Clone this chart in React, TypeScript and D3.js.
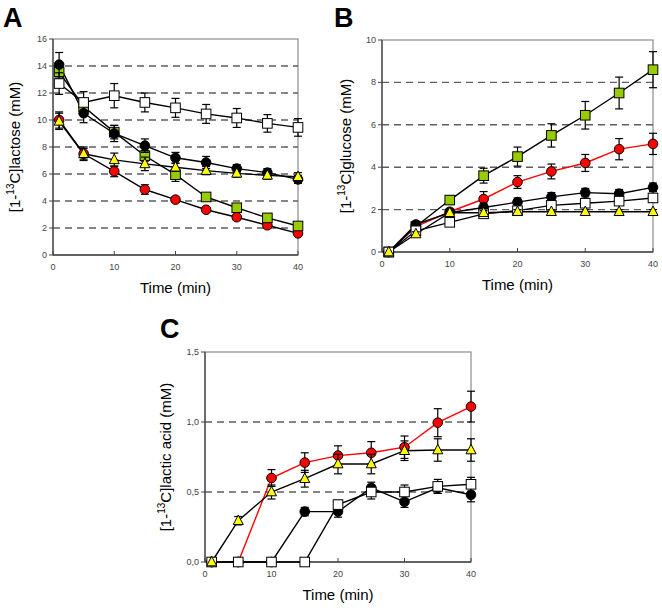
import * as d3 from "d3";

const times = [1, 5, 10, 15, 20, 25, 30, 35, 40];
const xTicks = [0, 10, 20, 30, 40];

// panel A: [1-13C]lactose
const lacBlack = [14.1, 10.5, 9.0, 8.1, 7.2, 6.85, 6.4, 6.1, 5.6];
const lacBlackErr = [0.9, 0.7, 0.6, 0.5, 0.4, 0.45, 0.3, 0.3, 0.3];
const lacWhite = [12.7, 11.3, 11.8, 11.3, 10.9, 10.45, 10.15, 9.75, 9.45];
const lacWhiteErr = [0.8, 0.8, 0.9, 0.7, 0.7, 0.7, 0.7, 0.65, 0.65];
const lacGreen = [13.55, 11.0, 9.1, 7.35, 5.95, 4.3, 3.5, 2.75, 2.15];
const lacGreenErr = [0.5, 0.4, 0.5, 0.4, 0.5, 0.2, 0.2, 0.2, 0.2];
const lacRed = [10.0, 7.5, 6.2, 4.85, 4.1, 3.35, 2.8, 2.2, 1.6];
const lacRedErr = [0.6, 0.4, 0.4, 0.35, 0.2, 0.2, 0.2, 0.2, 0.2];
const lacYellow = [9.9, 7.5, 7.05, 6.75, 6.5, 6.25, 6.05, 5.9, 5.8];
const lacYellowErr = [0.6, 0.5, 0.5, 0.5, 0.3, 0.3, 0.3, 0.3, 0.3];

// panel B: [1-13C]glucose
const gluBlack = [0, 1.3, 1.85, 2.1, 2.35, 2.6, 2.8, 2.75, 3.05];
const gluBlackErr = [0, 0.15, 0.15, 0.2, 0.2, 0.2, 0.2, 0.2, 0.2];
const gluWhite = [0, 1.0, 1.4, 1.8, 1.95, 2.2, 2.3, 2.4, 2.55];
const gluWhiteErr = [0, 0.1, 0.15, 0.15, 0.15, 0.15, 0.15, 0.15, 0.2];
const gluGreen = [0, 1.2, 2.45, 3.6, 4.5, 5.5, 6.45, 7.5, 8.6];
const gluGreenErr = [0, 0.15, 0.2, 0.35, 0.45, 0.55, 0.65, 0.75, 0.85];
const gluRed = [0, 1.2, 1.9, 2.5, 3.3, 3.8, 4.2, 4.85, 5.1];
const gluRedErr = [0, 0.15, 0.15, 0.35, 0.3, 0.35, 0.4, 0.5, 0.5];
const gluYellow = [0, 0.85, 1.85, 1.85, 1.9, 1.9, 1.9, 1.9, 1.9];
const gluYellowErr = [0, 0.1, 0.1, 0.1, 0.1, 0.1, 0.1, 0.1, 0.1];

// panel C: [1-13C]lactic acid
const lacBlackC = [0, 0, 0, 0.36, 0.36, 0.53, 0.43, 0.53, 0.48];
const lacBlackCErr = [0, 0, 0, 0.03, 0.04, 0.04, 0.04, 0.04, 0.05];
const lacWhiteC = [0, 0, 0, 0, 0.41, 0.5, 0.5, 0.54, 0.555];
const lacWhiteCErr = [0, 0, 0, 0, 0.03, 0.05, 0.05, 0.05, 0.05];
const lacRedC = [0, 0, 0.6, 0.71, 0.76, 0.78, 0.82, 0.995, 1.11];
const lacRedCErr = [0, 0, 0.06, 0.07, 0.07, 0.08, 0.08, 0.1, 0.11];
const lacYellowC = [0, 0.295, 0.5, 0.595, 0.7, 0.7, 0.795, 0.8, 0.8];
const lacYellowCErr = [0, 0.03, 0.05, 0.06, 0.07, 0.07, 0.07, 0.08, 0.08];

type Shape = "circle" | "square" | "triangle";
type Series = { shape: Shape; fill: string; line: string; values: number[]; errs: number[] };

const RED = "#ff0000";
const GREEN = "#99cc00";
const YELLOW = "#ffff00";
const FONT = "Liberation Sans, Arial, sans-serif";

function Marker({ shape, fill, x, y }: { shape: Shape; fill: string; x: number; y: number }) {
  if (shape === "circle") return <circle cx={x} cy={y} r={4.8} fill={fill} stroke="#000" strokeWidth={1} />;
  if (shape === "square") return <rect x={x - 4.8} y={y - 4.8} width={9.6} height={9.6} fill={fill} stroke="#000" strokeWidth={1} />;
  const h = 9.5;
  return (
    <path
      d={`M${x},${y - h * 0.6}L${x + 5},${y + h * 0.4}L${x - 5},${y + h * 0.4}Z`}
      fill={fill}
      stroke="#000"
      strokeWidth={1}
    />
  );
}

type PanelProps = {
  letter: string;
  letterPos: [number, number];
  box: [number, number, number, number]; // left, top, right, bottom
  yMax: number;
  yTicks: number[];
  fmt: (v: number) => string;
  yLabel: string;
  yLabelX: number;
  series: Series[];
};

function Panel({ letter, letterPos, box, yMax, yTicks, fmt, yLabel, yLabelX, series }: PanelProps) {
  const [l, t, r, b] = box;
  const x = d3.scaleLinear().domain([0, 40]).range([l, r]);
  const y = d3.scaleLinear().domain([0, yMax]).range([b, t]);
  const line = d3
    .line<number>()
    .x((_, i) => x(times[i]))
    .y((d) => y(d));
  const midY = (t + b) / 2;
  return (
    <g>
      <text x={letterPos[0]} y={letterPos[1]} fontSize={27} fontWeight="bold" fontFamily={FONT}>
        {letter}
      </text>
      <rect x={l} y={t} width={r - l} height={b - t} fill="#fff" stroke="#8c8c8c" strokeWidth={1.2} />
      {yTicks
        .filter((v) => v > 0 && v < yMax)
        .map((v) => (
          <line key={v} x1={l} x2={r} y1={y(v)} y2={y(v)} stroke="#5f5f5f" strokeWidth={1.4} strokeDasharray="7,5" />
        ))}
      <line x1={l} x2={l} y1={t} y2={b} stroke="#444" strokeWidth={1.3} />
      <line x1={l} x2={r} y1={b} y2={b} stroke="#444" strokeWidth={1.3} />
      {yTicks.map((v) => (
        <g key={v}>
          <line x1={l - 4} x2={l} y1={y(v)} y2={y(v)} stroke="#444" />
          <text x={l - 6} y={y(v) + 3} textAnchor="end" fontSize={9} fill="#444" fontFamily={FONT}>
            {fmt(v)}
          </text>
        </g>
      ))}
      {xTicks.map((v) => (
        <g key={v}>
          <line x1={x(v)} x2={x(v)} y1={b} y2={b - 4} stroke="#444" />
          <text x={x(v)} y={b + 15} textAnchor="middle" fontSize={9} fill="#444" fontFamily={FONT}>
            {v}
          </text>
        </g>
      ))}
      <text x={(l + r) / 2} y={b + 38} textAnchor="middle" fontSize={15} fontFamily={FONT}>
        Time (min)
      </text>
      <text transform={`translate(${yLabelX},${midY}) rotate(-90)`} textAnchor="middle" fontSize={15} fontFamily={FONT}>
        [1-<tspan fontSize={10} dy={-6}>13</tspan>
        <tspan dy={6}>C]{yLabel} (mM)</tspan>
      </text>
      {series.map((s, si) => (
        <path key={si} d={line(s.values) || ""} fill="none" stroke={s.line} strokeWidth={1.4} />
      ))}
      {series.map((s, si) => (
        <g key={si}>
          {s.values.map((v, i) =>
            s.errs[i] > 0 ? (
              <g key={i} stroke="#000" strokeWidth={1.2}>
                <line x1={x(times[i])} x2={x(times[i])} y1={y(v - s.errs[i])} y2={y(v + s.errs[i])} />
                <line x1={x(times[i]) - 4} x2={x(times[i]) + 4} y1={y(v - s.errs[i])} y2={y(v - s.errs[i])} />
                <line x1={x(times[i]) - 4} x2={x(times[i]) + 4} y1={y(v + s.errs[i])} y2={y(v + s.errs[i])} />
              </g>
            ) : null
          )}
          {s.values.map((v, i) => (
            <Marker key={"m" + i} shape={s.shape} fill={s.fill} x={x(times[i])} y={y(v)} />
          ))}
        </g>
      ))}
    </g>
  );
}

const comma = (v: number) => v.toFixed(1).replace(".", ",");

export default function App() {
  // draw order: red, green, black, white, yellow
  const seriesA: Series[] = [
    { shape: "circle", fill: RED, line: "#000", values: lacRed, errs: lacRedErr },
    { shape: "square", fill: GREEN, line: "#000", values: lacGreen, errs: lacGreenErr },
    { shape: "circle", fill: "#000", line: "#000", values: lacBlack, errs: lacBlackErr },
    { shape: "square", fill: "#fff", line: "#000", values: lacWhite, errs: lacWhiteErr },
    { shape: "triangle", fill: YELLOW, line: "#000", values: lacYellow, errs: lacYellowErr },
  ];
  const seriesB: Series[] = [
    { shape: "circle", fill: RED, line: RED, values: gluRed, errs: gluRedErr },
    { shape: "square", fill: GREEN, line: "#000", values: gluGreen, errs: gluGreenErr },
    { shape: "circle", fill: "#000", line: "#000", values: gluBlack, errs: gluBlackErr },
    { shape: "square", fill: "#fff", line: "#000", values: gluWhite, errs: gluWhiteErr },
    { shape: "triangle", fill: YELLOW, line: "#000", values: gluYellow, errs: gluYellowErr },
  ];
  const seriesC: Series[] = [
    { shape: "circle", fill: RED, line: RED, values: lacRedC, errs: lacRedCErr },
    { shape: "circle", fill: "#000", line: "#000", values: lacBlackC, errs: lacBlackCErr },
    { shape: "square", fill: "#fff", line: "#000", values: lacWhiteC, errs: lacWhiteCErr },
    { shape: "triangle", fill: YELLOW, line: "#000", values: lacYellowC, errs: lacYellowCErr },
  ];
  return (
    <svg width={662} height={610} style={{ position: "absolute", left: 0, top: 0, background: "#fff" }}>
      <rect width={662} height={610} fill="#fff" />
      <Panel
        letter="A"
        letterPos={[3, 27]}
        box={[53, 39, 298, 255]}
        yMax={16}
        yTicks={d3.range(0, 17, 2)}
        fmt={(v) => String(v)}
        yLabel="lactose"
        yLabelX={20}
        series={seriesA}
      />
      <Panel
        letter="B"
        letterPos={[334, 27]}
        box={[382, 40, 653, 252]}
        yMax={10}
        yTicks={d3.range(0, 11, 2)}
        fmt={(v) => String(v)}
        yLabel="glucose"
        yLabelX={351}
        series={seriesB}
      />
      <Panel
        letter="C"
        letterPos={[160, 338]}
        box={[205, 352, 471, 562]}
        yMax={1.5}
        yTicks={[0, 0.5, 1.0, 1.5]}
        fmt={comma}
        yLabel="lactic acid"
        yLabelX={171}
        series={seriesC}
      />
    </svg>
  );
}
